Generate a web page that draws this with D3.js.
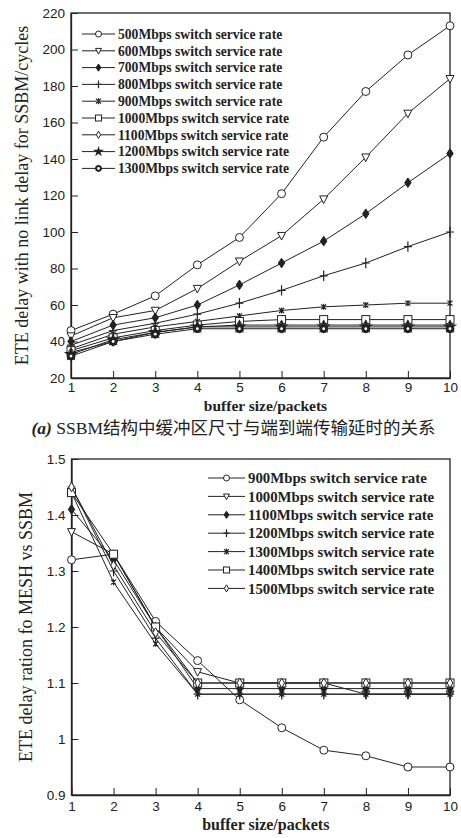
<!DOCTYPE html>
<html>
<head>
<meta charset="utf-8">
<script src="https://cdn.jsdelivr.net/npm/d3@7"></script>
<style>
body{margin:0;background:#fff;}
svg{display:block;}
.tick text{font-family:"Liberation Sans",Arial,sans-serif;font-size:13.5px;fill:#222;}
</style>
</head>
<body>
<svg></svg>
<script>
// buffer size (x), shared by both charts
var bufferSizes=[1,2,3,4,5,6,7,8,9,10];

// chart (a): ETE delay for SSBM, cycles
var topNames=['500Mbps switch service rate','600Mbps switch service rate','700Mbps switch service rate',
  '800Mbps switch service rate','900Mbps switch service rate','1000Mbps switch service rate',
  '1100Mbps switch service rate','1200Mbps switch service rate','1300Mbps switch service rate'];
var topMarkers=['circle','triangle','fdiamond','plus','star','square','diamond','fstar','fcircle'];
var d500=[46,55,65,82,97,121,152,177,197,213];
var d600=[43,53,57,69,84,98,118,141,165,184];
var d700=[40,49,53,60,71,83,95,110,127,143];
var d800=[38,46,50,55,61,68,76,83,92,100];
var d900=[36,44,48,51,54,57,59,60,61,61];
var d1000=[35,42,46,49,51,52,52,52,52,52];
var d1100=[34,40,45,48,49,49,49,49,49,49];
var d1200=[33,41,45,48,48,48,48,48,48,48];
var d1300=[32,40,44,47,47,47,47,47,47,47];
var topSeries=[d500,d600,d700,d800,d900,d1000,d1100,d1200,d1300];
var topTicks=[20,40,60,80,100,120,140,160,180,200,220];

// chart (b): ETE delay ratio MESH vs SSBM
var botNames=['900Mbps switch service rate','1000Mbps switch service rate','1100Mbps switch service rate',
  '1200Mbps switch service rate','1300Mbps switch service rate','1400Mbps switch service rate',
  '1500Mbps switch service rate'];
var botMarkers=['circle','triangle','fdiamond','plus','star','square','diamond'];
var r900=[1.32,1.33,1.21,1.14,1.07,1.02,0.98,0.97,0.95,0.95];
var r1000=[1.37,1.33,1.20,1.12,1.10,1.10,1.10,1.08,1.08,1.08];
var r1100=[1.41,1.32,1.20,1.09,1.09,1.09,1.09,1.09,1.09,1.09];
var r1200=[1.45,1.30,1.18,1.08,1.08,1.08,1.08,1.08,1.08,1.08];
var r1300=[1.44,1.28,1.17,1.08,1.08,1.08,1.08,1.08,1.08,1.08];
var r1400=[1.44,1.33,1.20,1.10,1.10,1.10,1.10,1.10,1.10,1.10];
var r1500=[1.45,1.31,1.19,1.10,1.10,1.10,1.10,1.10,1.10,1.10];
var botSeries=[r900,r1000,r1100,r1200,r1300,r1400,r1500];
var botTicks=[0.9,1,1.1,1.2,1.3,1.4,1.5];

var W=461,H=838,ink='#222';
var svg=d3.select('svg').attr('width',W).attr('height',H);

// draw one marker at (0,0) in group g
function marker(g,type,s){
  s=s||4;
  if(type=='circle'||type=='fcircle'){
    g.append('circle').attr('r',s).attr('fill',type=='fcircle'?ink:'#fff').attr('stroke',ink);
    if(type=='fcircle') g.append('circle').attr('r',1.4).attr('fill','#fff');
  } else if(type=='triangle'){
    g.append('path').attr('d','M'+(-s)+','+(-s*0.8)+'L'+s+','+(-s*0.8)+'L0,'+(s*1.1)+'Z')
      .attr('fill','#fff').attr('stroke',ink);
  } else if(type=='square'){
    g.append('rect').attr('x',-s).attr('y',-s).attr('width',2*s).attr('height',2*s)
      .attr('fill','#fff').attr('stroke',ink);
  } else if(type=='diamond'){
    g.append('path').attr('d','M0,'+(-s*1.2)+'L'+(s*0.7)+',0L0,'+(s*1.2)+'L'+(-s*0.7)+',0Z')
      .attr('fill','#fff').attr('stroke',ink);
  } else if(type=='fdiamond'){
    g.append('path').attr('d','M0,'+(-s*1.2)+'L'+(s*0.8)+',0L0,'+(s*1.2)+'L'+(-s*0.8)+',0Z')
      .attr('fill',ink).attr('stroke',ink);
  } else if(type=='plus'){
    g.append('path').attr('d','M0,'+(-s*1.3)+'V'+(s*1.3)+'M'+(-s)+',0H'+s).attr('stroke',ink).attr('stroke-width',1.2);
  } else if(type=='star'){
    g.append('path').attr('d','M-2.5,-2.5L2.5,2.5M-2.5,2.5L2.5,-2.5M0,-3V3').attr('stroke',ink).attr('stroke-width',1.2);
  } else if(type=='fstar'){
    g.append('path').attr('d',d3.symbol().type(d3.symbolStar).size(s*s*4)()).attr('fill',ink);
  }
}

function chart(o){
  var x=d3.scaleLinear().domain([1,10]).range([o.left,o.right]);
  var y=d3.scaleLinear().domain(o.yDomain).range([o.bottom,o.top]);

  // frame
  svg.append('rect').attr('x',o.left).attr('y',o.top)
    .attr('width',o.right-o.left).attr('height',o.bottom-o.top)
    .attr('fill','none').attr('stroke',ink).attr('stroke-width',1.3);

  var xAxis=d3.axisBottom(x).tickValues(bufferSizes).tickSizeInner(-7).tickSizeOuter(0).tickPadding(o.xPad);
  var gx=svg.append('g').attr('transform','translate(0,'+o.bottom+')').call(xAxis);
  gx.select('.domain').attr('stroke',ink).attr('stroke-width',1.3);
  gx.selectAll('.tick line').attr('stroke',ink);

  var yAxis=d3.axisLeft(y).tickValues(o.yTicks).tickFormat(d3.format(o.fmt)).tickSizeInner(-7).tickSizeOuter(0).tickPadding(6);
  var gy=svg.append('g').attr('transform','translate('+o.left+',0)').call(yAxis);
  gy.select('.domain').attr('stroke',ink).attr('stroke-width',1.3);
  gy.selectAll('.tick line').attr('stroke',ink);

  var line=d3.line().x((d,i)=>x(bufferSizes[i])).y(d=>y(d));
  o.series.forEach(function(s,k){
    svg.append('path').attr('d',line(s)).attr('fill','none').attr('stroke',ink).attr('stroke-width',1);
    s.forEach(function(v,i){
      marker(svg.append('g').attr('transform','translate('+x(bufferSizes[i])+','+y(v)+')'),o.markers[k]);
    });
  });

  // legend
  var lg=svg.append('g');
  o.names.forEach(function(n,k){
    var ly=o.legY+k*o.legStep;
    lg.append('line').attr('x1',o.legX).attr('x2',o.legX+o.legLen).attr('y1',ly).attr('y2',ly).attr('stroke',ink);
    marker(lg.append('g').attr('transform','translate('+(o.legX+o.legLen/2)+','+ly+')'),o.markers[k],3);
    lg.append('text').attr('x',o.legX+o.legLen+3).attr('y',ly).attr('dy','0.35em')
      .attr('font-family','"Liberation Serif","Times New Roman",serif').attr('font-weight','bold')
      .attr('font-size',o.legFont).attr('fill',ink).text(n);
  });

  svg.append('text').attr('x',(o.left+o.right)/2+5).attr('y',o.bottom+o.xLabDy)
    .attr('text-anchor','middle').attr('font-family','"Liberation Serif",serif').attr('font-weight','bold')
    .attr('font-size',o.xLabFont).attr('fill',ink).text('buffer size/packets');

  svg.append('text').attr('transform','translate('+o.yLabX+','+((o.top+o.bottom)/2)+') rotate(-90)')
    .attr('text-anchor','middle').attr('dy','0.35em').attr('font-family','"Liberation Serif",serif')
    .attr('font-size',18).attr('fill',ink).text(o.yLabel);
}

chart({left:71,right:450,top:13,bottom:378,yDomain:[20,220],yTicks:topTicks,fmt:'d',
  series:topSeries,markers:topMarkers,names:topNames,xPad:4,
  legX:82,legLen:33,legY:34,legStep:16.8,legFont:13.6,xLabDy:33,xLabFont:15.5,
  yLabX:22,yLabel:'ETE delay with no link delay for SSBM/cycles'});

var cap=svg.append('text').attr('x',W/2+3).attr('y',434).attr('text-anchor','middle')
  .attr('font-size',17.5).attr('fill',ink);
cap.append('tspan').attr('font-family','"Liberation Serif",serif').attr('font-style','italic').attr('font-weight','bold').text('(a) ');
cap.append('tspan').attr('font-family','"Liberation Serif",serif').text('SSBM');
cap.append('tspan').attr('font-family','"Noto Sans CJK SC",sans-serif').text('结构中缓冲区尺寸与端到端传输延时的关系');

chart({left:71.5,right:450,top:459,bottom:795,yDomain:[0.9,1.5],yTicks:botTicks,fmt:'',
  series:botSeries,markers:botMarkers,names:botNames,xPad:6,
  legX:208,legLen:37,legY:478,legStep:18.4,legFont:14.8,xLabDy:35,xLabFont:16,
  yLabX:26,yLabel:'ETE delay ration fo MESH vs SSBM'});
</script>
</body>
</html>
